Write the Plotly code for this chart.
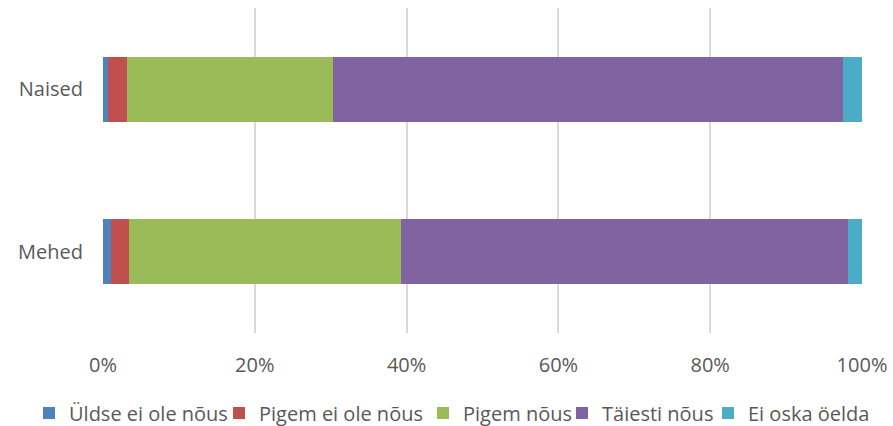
import plotly.graph_objects as go

categories = ["Mehed", "Naised"]
series_names = ["Üldse ei ole nõus", "Pigem ei ole nõus", "Pigem nõus", "Täiesti nõus", "Ei oska öelda"]
values = {
    "Üldse ei ole nõus": [1.0, 0.7],
    "Pigem ei ole nõus": [2.4, 2.4],
    "Pigem nõus": [35.8, 27.2],
    "Täiesti nõus": [58.9, 67.2],
    "Ei oska öelda": [1.9, 2.5],
}
colors = ["#4F81BD", "#C0504D", "#9BBB59", "#8064A2", "#4BACC6"]
tick_vals = [0, 20, 40, 60, 80, 100]
tick_text = ["0%", "20%", "40%", "60%", "80%", "100%"]

W, H = 893, 426
ML, MR, MT, MB = 103, 31, 8, 93
PW = W - ML - MR
PH = H - MT - MB

# pixel x where each legend entry's text starts (layout only)
legend_text_px = [69, 259, 463, 602, 748]
legend_y_px = 413

font = "Open Sans"
txt_col = "#595959"

fig = go.Figure()
legend_layout = {}
for i, (name, col) in enumerate(zip(series_names, colors)):
    lg = "legend" if i == 0 else f"legend{i+1}"
    fig.add_trace(go.Bar(
        y=categories, x=values[name], name=name, orientation="h",
        marker=dict(color=col, line=dict(width=0)), width=0.4,
        legend=lg,
    ))
    legend_layout[lg] = dict(
        x=(legend_text_px[i] - 40 - ML) / PW, xanchor="left",
        y=-(legend_y_px - (H - MB)) / PH, yanchor="middle",
        orientation="h", bgcolor="rgba(0,0,0,0)",
        font=dict(family=font, size=20, color=txt_col),
        itemwidth=30,
    )

fig.update_layout(
    barmode="stack",
    width=W, height=H,
    margin=dict(l=ML, r=MR, t=MT, b=MB, autoexpand=False),
    plot_bgcolor="white", paper_bgcolor="white",
    font=dict(family=font, size=20, color=txt_col),
    xaxis=dict(range=[0, 100], tickvals=tick_vals, ticktext=tick_text,
               showgrid=True, gridcolor="#D9D9D9", gridwidth=1.5,
               zeroline=False, showline=False, ticks="", ticklabelstandoff=18,
               automargin=False,
               tickfont=dict(family=font, size=20, color=txt_col)),
    yaxis=dict(showgrid=False, zeroline=False, showline=False, ticks="",
               ticklabelstandoff=19, automargin=False,
               tickfont=dict(family=font, size=20, color=txt_col)),
    showlegend=True,
    **legend_layout,
)
fig.write_html(
    "out.html",
    config={"displayModeBar": False},
    post_script="document.body.style.margin='0';document.body.style.overflow='hidden';",
)
